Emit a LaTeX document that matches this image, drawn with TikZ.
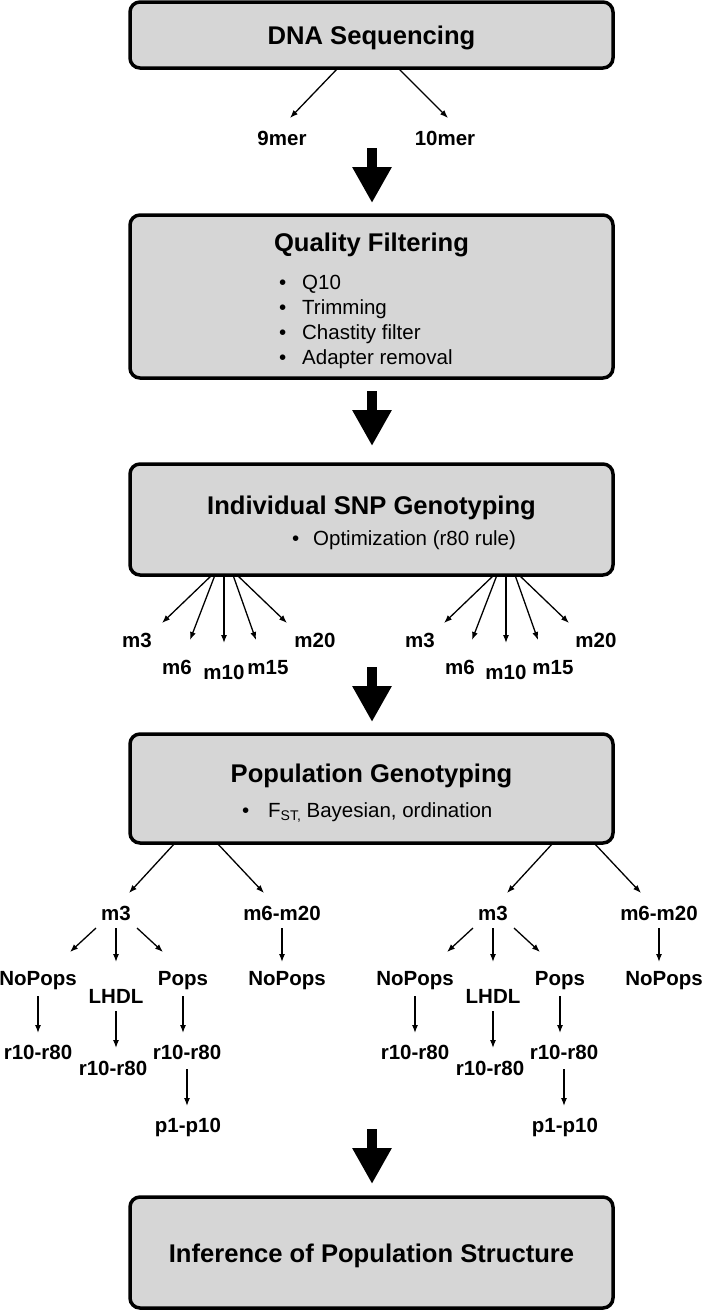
\documentclass[tikz,border=0pt]{standalone}
\usepackage{fontspec}
\setmainfont{Liberation Sans}
\usetikzlibrary{arrows.meta}
\definecolor{boxgray}{RGB}{214,214,214}
\tikzset{
  stage/.style={draw=black, fill=boxgray, line width=3.5pt, rounded corners=10pt,
    minimum width=483pt, inner sep=0pt, outer sep=0pt},
  ttl/.style={font=\fontsize{25.6}{30}\selectfont\bfseries, text height=18.4pt, text depth=0pt, inner sep=0pt},
  bul/.style={font=\fontsize{20.5}{25}\selectfont, text height=14.7pt, text depth=0pt, inner sep=0pt, anchor=west},
  lbl/.style={font=\fontsize{20.5}{25}\selectfont\bfseries, text height=14.7pt, text depth=0pt, inner sep=0pt},
  arr/.style={line width=1.3pt, -{Latex[length=8pt,width=6pt]}},
  bigarr/.style={line width=10pt, -{Triangle[length=36pt,width=37pt]}},
}
\begin{document}
\begin{tikzpicture}[x=1pt,y=-1pt]
\useasboundingbox (0,0) rectangle (704,1310);

% ---------- stage boxes ----------
\node[stage, minimum height=66pt]  (dna) at (371.5,35) {};
\node[stage, minimum height=163pt] (qf)  at (371.5,296.5) {};
\node[stage, minimum height=111pt] (snp) at (371.5,519.5) {};
\node[stage, minimum height=109pt] (pop) at (371.5,788.5) {};
\node[stage, minimum height=111pt] (inf) at (371.5,1252.5) {};

% ---------- titles ----------
\node[ttl] (dnat) at (371.5,35) {DNA Sequencing};
\node[ttl] (qft)  at (371.5,242) {Quality Filtering};
\node[ttl] (snpt) at (371.5,505) {Individual SNP Genotyping};
\node[ttl] (popt) at (371.5,773) {Population Genotyping};
\node[ttl] (inft) at (371.5,1253) {Inference of Population Structure};

% ---------- bullets ----------
\node[bul] (qf1) at (279,282) {\makebox[23pt][l]{\textbullet}Q10};
\node[bul] (qf2) at (279,307) {\makebox[23pt][l]{\textbullet}Trimming};
\node[bul] (qf3) at (279,332) {\makebox[23pt][l]{\textbullet}Chastity filter};
\node[bul] (qf4) at (279,357) {\makebox[23pt][l]{\textbullet}Adapter removal};
\node[bul] (snp1) at (292,538) {\makebox[21pt][l]{\textbullet}Optimization (r80 rule)};
\node[bul] (pop1) at (242,810) {\makebox[26pt][l]{\textbullet}F\raisebox{-3.5pt}{\fontsize{14}{14}\selectfont ST,} Bayesian, ordination};

% ---------- DNA sequencing branches ----------
\node[lbl] (n9)  at (282,138) {9mer};
\node[lbl] (n10) at (445,138) {10mer};
\draw[arr] ([xshift=-33.5pt]dna.south) -- ([shift={(8,-20)}]n9.center);
\draw[arr] ([xshift=26.5pt]dna.south) -- ([shift={(3,-20)}]n10.center);

% ---------- SNP genotyping branches ----------
\node[lbl] (am3)  at (137,640) {m3};
\node[lbl] (am6)  at (177,667) {m6};
\node[lbl] (am10) at (224,672) {m10};
\node[lbl] (am15) at (268,667) {m15};
\node[lbl] (am20) at (315,640) {m20};
\draw[arr] ([xshift=-159.5pt]snp.south) -- ([shift={(25,-17)}]am3.center);
\draw[arr] ([xshift=-156.5pt]snp.south) -- ([shift={(13,-27)}]am6.center);
\draw[arr] ([xshift=-147.5pt]snp.south) -- ([shift={(0,-29)}]am10.center);
\draw[arr] ([xshift=-138.5pt]snp.south) -- ([shift={(-12,-27)}]am15.center);
\draw[arr] ([xshift=-134.5pt]snp.south) -- ([shift={(-28,-17)}]am20.center);

\node[lbl] (bm3)  at (420,640) {m3};
\node[lbl] (bm6)  at (460,667) {m6};
\node[lbl] (bm10) at (506,672) {m10};
\node[lbl] (bm15) at (553,667) {m15};
\node[lbl] (bm20) at (596,640) {m20};
\draw[arr] ([xshift=122.5pt]snp.south) -- ([shift={(24,-17)}]bm3.center);
\draw[arr] ([xshift=125.5pt]snp.south) -- ([shift={(12,-27)}]bm6.center);
\draw[arr] ([xshift=134.5pt]snp.south) -- ([shift={(0,-29)}]bm10.center);
\draw[arr] ([xshift=143.5pt]snp.south) -- ([shift={(-15,-27)}]bm15.center);
\draw[arr] ([xshift=147.5pt]snp.south) -- ([shift={(-27,-17)}]bm20.center);

% ---------- population genotyping tree (left) ----------
\node[lbl] (am3p)  at (116,913) {m3};
\node[lbl] (amall) at (282,913) {m6-m20};
\node[lbl] (anop)  at (38,978)  {NoPops};
\node[lbl] (alhdl) at (116,996) {LHDL};
\node[lbl] (apops) at (183,978) {Pops};
\node[lbl] (anop2) at (287,978) {NoPops};
\node[lbl] (ar1)   at (38,1052) {r10-r80};
\node[lbl] (ar2)   at (113,1068) {r10-r80};
\node[lbl] (ar3)   at (187,1052) {r10-r80};
\node[lbl] (ap)    at (188,1125) {p1-p10};

\draw[arr] ([xshift=-196.5pt]pop.south) -- ([shift={(13,-20)}]am3p.center);
\draw[arr] ([xshift=-154.5pt]pop.south) -- ([shift={(-18,-20)}]amall.center);
\draw[arr] ([shift={(-20,15)}]am3p.center) -- ([shift={(32,-26)}]anop.center);
\draw[arr] ([shift={(0,15)}]am3p.center) -- ([shift={(0,-34)}]alhdl.center);
\draw[arr] ([shift={(21,15)}]am3p.center) -- ([shift={(-20,-26)}]apops.center);
\draw[arr] ([shift={(0,15)}]amall.center) -- ([shift={(-5,-16)}]anop2.center);
\draw[arr] ([shift={(0,18)}]anop.center) -- ([shift={(0,-19)}]ar1.center);
\draw[arr] ([shift={(0,15)}]alhdl.center) -- ([shift={(3,-20)}]ar2.center);
\draw[arr] ([shift={(0,18)}]apops.center) -- ([shift={(-4,-19)}]ar3.center);
\draw[arr] ([shift={(0,17)}]ar3.center) -- ([shift={(-1,-19)}]ap.center);

% ---------- population genotyping tree (right) ----------
\node[lbl] (bm3p)  at (493,913) {m3};
\node[lbl] (bmall) at (659,913) {m6-m20};
\node[lbl] (bnop)  at (415,978)  {NoPops};
\node[lbl] (blhdl) at (493,996) {LHDL};
\node[lbl] (bpops) at (560,978) {Pops};
\node[lbl] (bnop2) at (664,978) {NoPops};
\node[lbl] (br1)   at (415,1052) {r10-r80};
\node[lbl] (br2)   at (490,1068) {r10-r80};
\node[lbl] (br3)   at (564,1052) {r10-r80};
\node[lbl] (bp)    at (565,1125) {p1-p10};

\draw[arr] ([xshift=181.5pt]pop.south) -- ([shift={(14,-20)}]bm3p.center);
\draw[arr] ([xshift=222.5pt]pop.south) -- ([shift={(-18,-20)}]bmall.center);
\draw[arr] ([shift={(-20,15)}]bm3p.center) -- ([shift={(32,-26)}]bnop.center);
\draw[arr] ([shift={(0,15)}]bm3p.center) -- ([shift={(0,-34)}]blhdl.center);
\draw[arr] ([shift={(21,15)}]bm3p.center) -- ([shift={(-20,-26)}]bpops.center);
\draw[arr] ([shift={(0,15)}]bmall.center) -- ([shift={(-5,-16)}]bnop2.center);
\draw[arr] ([shift={(0,18)}]bnop.center) -- ([shift={(0,-19)}]br1.center);
\draw[arr] ([shift={(0,15)}]blhdl.center) -- ([shift={(3,-20)}]br2.center);
\draw[arr] ([shift={(0,18)}]bpops.center) -- ([shift={(-4,-19)}]br3.center);
\draw[arr] ([shift={(0,17)}]br3.center) -- ([shift={(-1,-19)}]bp.center);

% ---------- big stage arrows ----------
\coordinate (g1s) at (372,148);  \coordinate (g1e) at (372,203);
\coordinate (g2s) at (372,391);  \coordinate (g2e) at (372,446);
\coordinate (g3s) at (372,667);  \coordinate (g3e) at (372,722);
\coordinate (g4s) at (372,1129); \coordinate (g4e) at (372,1184);
\draw[bigarr] (g1s) -- (g1e);
\draw[bigarr] (g2s) -- (g2e);
\draw[bigarr] (g3s) -- (g3e);
\draw[bigarr] (g4s) -- (g4e);
\end{tikzpicture}
\end{document}
